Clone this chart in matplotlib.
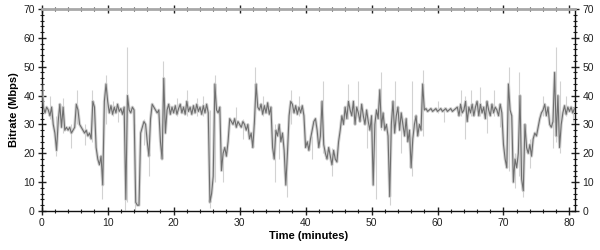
import numpy as np
import matplotlib
matplotlib.use("Agg")
import matplotlib.pyplot as plt
from matplotlib.ticker import MultipleLocator

plt.rcParams['font.family'] = ['Liberation Sans', 'DejaVu Sans']

# bitrate (Mbps), sampled every 0.25 minutes from 0 to 81
bitrate = [
    44, 36, 34, 36,   35, 33, 36, 30,   27, 21, 31, 37,   29, 36, 28, 29,
    28, 29, 27, 28,   29, 37, 35, 30,   29, 28, 27, 28,   26, 27, 25, 38,
    36, 22, 18, 16,   19, 9, 38, 44,    38, 34, 36.5, 33.5, 36, 34, 37, 34.5,
    35.5, 33.5, 36, 4, 40, 35, 34, 36,  35, 3, 2, 2,      27, 29, 31, 30,
    24, 19, 32, 37,   36, 35, 34, 35,   24, 18, 46, 27,   35, 37, 33.5, 36,
    34, 36.5, 33.5, 35.5, 37, 34, 36, 33.5, 38, 34.5, 36, 33.5, 36.5, 34, 37, 34.5,
    36, 33.5, 36.5, 34, 37, 34, 3, 6,  12, 44, 35, 34,   36, 14, 20, 22,
    19, 24, 32, 31,   30, 32, 29, 31,   30, 29, 31, 30,   28, 30, 25, 27,
    22, 31, 44, 36,   35, 37, 33.5, 36.5, 34, 37.5, 33.5, 36, 22, 18, 28, 26,
    30, 24, 27, 21,   9, 20, 33, 38,    37, 34, 36.5, 33.5, 36, 34, 36.5, 33,
    22, 24, 21, 25,   28, 31, 32, 28,   22, 26, 38, 23,   20, 18, 22, 19,
    16, 21, 18, 17,   24, 28, 33, 30,   36, 32, 38, 35,   33, 38, 30, 36,
    34, 31, 37, 33,   30, 35, 31, 28,   33, 9, 30, 35,    32, 42, 29, 34,
    28, 30, 26, 5,    30, 38, 27, 33,   36, 28, 34, 30,   26, 32, 24, 28,
    15, 25, 30, 33,   26, 30, 28, 44,   35, 35.5, 34.5, 35, 35.5, 34.5, 35, 35.5,
    34.5, 35, 35.5, 34.5, 35, 35.5, 34.5, 35, 35.5, 34.5, 35, 35.5, 36, 33, 37, 34,
    35, 38, 31, 36,   34, 37, 33, 36,   38, 33, 37, 34,   36, 32, 38, 35,
    33, 37, 34, 36,   35, 33, 37, 34,   23, 18, 15, 44,   35, 33, 10, 18,
    15, 20, 40, 11,   7, 30, 22, 20,    23, 19, 25, 27,   26, 29, 32, 34,
    35, 37, 33, 36,   30, 29, 31, 48,   26, 40, 22, 30,   34, 36.5, 33.5, 36,
    34.5, 36, 34, 35.5, 35,
]
time_min = np.arange(len(bitrate)) * 0.25

# short raw-sample excursions (light grey spikes)
spike_t = [0.1, 1.2, 2.2, 3.2, 4.5, 5.3, 6.5, 7.7, 9.1, 9.7, 10.8, 11.5,
           12.7, 13.0, 14.2, 15.5, 16.3, 18.4, 20.5, 22.0, 23.5, 24.5, 25.5,
           26.3, 27.5, 29.5, 30.5, 32.4, 33.5, 35.3, 36.0, 37.2, 37.8, 39.0,
           41.0, 42.6, 44.0, 46.5, 48.0, 49.3, 50.6, 51.5, 52.8, 53.5, 54.5,
           56.2, 57.8, 60.0, 61.0, 63.5, 64.2, 65.0, 66.5, 67.5, 68.5, 69.5,
           70.9, 71.7, 72.3, 73.0, 74.0, 76.0, 77.5, 78.0, 78.5, 79.5, 80.5]
spike_lo = [33, 32, 19, 27, 22, 30, 23, 24, 4, 30, 33, 31,
            0.5, 3, 0, 23, 12, 24, 33, 33, 33, 33, 1,
            10, 10, 30, 25, 30, 33, 10, 18, 5, 30, 33,
            18, 20, 12, 32, 33, 22, 4, 28, 2, 30, 20,
            12, 26, 34, 31, 33, 25, 33, 33, 27, 33, 29,
            14, 8, 12, 5, 15, 33, 22, 24, 20, 33, 31]
spike_hi = [46, 40, 33, 39, 30, 42, 30, 42, 20, 47, 38, 36,
            35, 57, 30, 32, 25, 52, 39, 42, 39, 40, 35,
            47, 22, 36, 32, 50, 40, 30, 30, 25, 42, 40,
            26, 45, 22, 44, 45, 32, 33, 48, 30, 45, 30,
            45, 49, 38, 36, 42, 40, 42, 43, 36, 42, 36,
            50, 20, 48, 30, 25, 40, 30, 57, 45, 40, 36]

fig = plt.figure(figsize=(6, 2.5), dpi=100)
ax = fig.add_axes([0.0695, 0.156, 0.8895, 0.808])

light = '#d2d2d2'
dark = '#6f6f6f'
ax.vlines(spike_t, spike_lo, spike_hi, color=light, lw=0.8, zorder=1)
ax.plot(time_min, bitrate, color=light, lw=2.2, zorder=2, solid_joinstyle='round')
ax.plot(time_min, bitrate, color=dark, lw=0.8, zorder=3)

ax.set_xlim(0, 80.9)
ax.set_ylim(0, 70)
ax.xaxis.set_major_locator(MultipleLocator(10))
ax.xaxis.set_minor_locator(MultipleLocator(2))
ax.yaxis.set_major_locator(MultipleLocator(10))
ax.yaxis.set_minor_locator(MultipleLocator(2))

ax.tick_params(which='both', direction='inout', top=True, right=True,
               labelright=True, labelsize=7.5, colors='#222222', pad=2)
ax.tick_params(which='major', length=6, width=1)
ax.tick_params(which='minor', length=3, width=0.8)

for s in ['left', 'bottom', 'right']:
    ax.spines[s].set_color('#111111')
    ax.spines[s].set_linewidth(1.0)
ax.spines['top'].set_color('#a8a8a8')
ax.spines['top'].set_linewidth(2.0)

ax.set_xlabel('Time (minutes)', fontsize=8, fontweight='bold', labelpad=2)
ax.set_ylabel('Bitrate (Mbps)', fontsize=8, fontweight='bold', labelpad=3)

fig.savefig('out.png', dpi=100)
